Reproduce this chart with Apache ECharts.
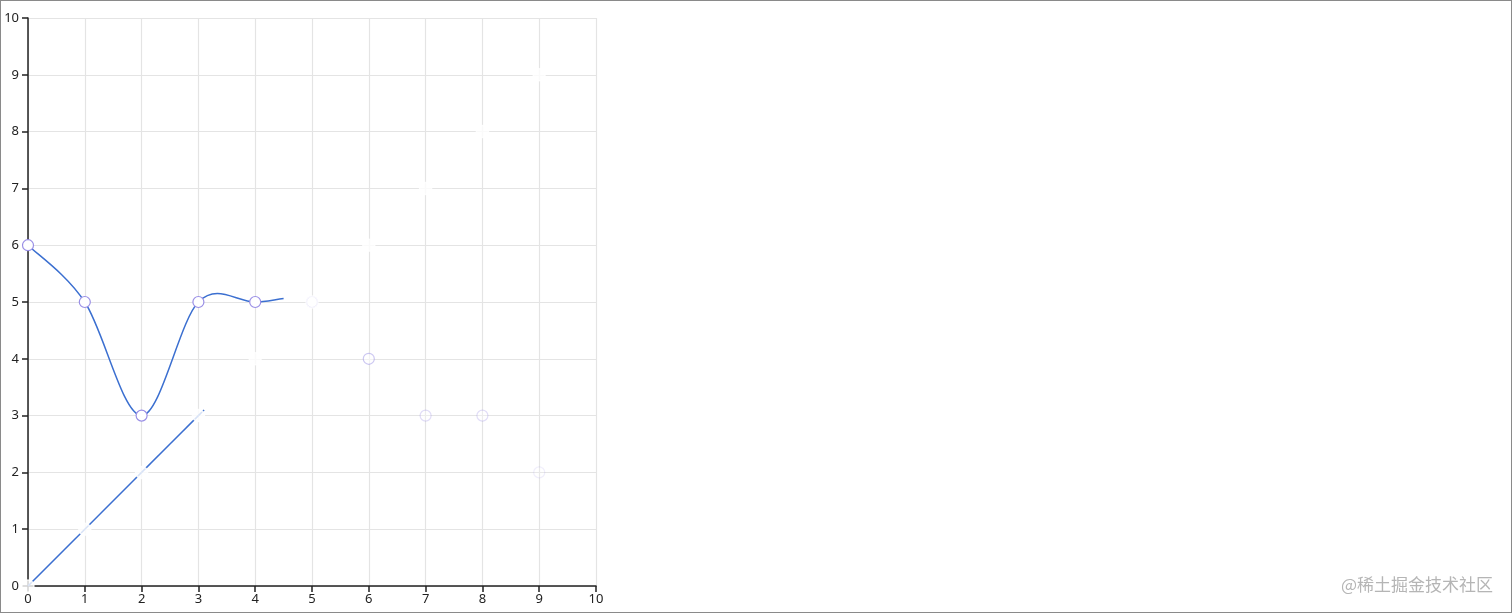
<!DOCTYPE html>
<html>
<head>
    <meta charset="UTF-8">
    <title>line chart</title>
    <script src="https://cdn.jsdelivr.net/npm/echarts@6/dist/echarts.min.js"></script>
    <style>
        html,body{margin:0;padding:0;background:#fff;}
        #main{width:1512px;height:613px;box-sizing:border-box;border:1px solid #8a8a8a;}
    </style>
</head>
<body>
<div id="main"></div>
<script>
    // 数据
    var xValues = [0, 1, 2, 3, 4, 5, 6, 7, 8, 9];
    var curveValues = [6, 5, 3, 5, 5, 5, 4, 3, 3, 2];
    var diagValues = [0, 1, 2, 3, 4, 5, 6, 7, 8, 9];
    var axisTicks = [0, 1, 2, 3, 4, 5, 6, 7, 8, 9, 10];

    // 动画进行到的位置 (线条画到哪里)
    var curveDrawnTo = 4.5;
    var diagDrawnTo = 3.1;
    // 点的透明度 (渐隐)
    var curvePointOpacity = [1, 1, 1, 1, 1, 1, 0.5, 0.3, 0.3, 0.15];

    var lineColor = '#3b6fd0';
    var pointColor = '#9a8fe6';

    var curveData = xValues.map(function (x, i) { return [x, curveValues[i]]; });
    var diagData = xValues.map(function (x, i) { return [x, diagValues[i]]; });
    var curvePoints = curveData.map(function (d, i) {
        return {value: d, itemStyle: {opacity: curvePointOpacity[i]}};
    });

    var chart = echarts.init(document.getElementById('main'), null, {renderer: 'canvas'});

    function valueAxis(margin) {
        return {
            type: 'value',
            min: axisTicks[0],
            max: axisTicks[axisTicks.length - 1],
            interval: 1,
            axisLine: {show: true, onZero: false, lineStyle: {color: '#222', width: 1.5}},
            axisTick: {show: true, length: 6, lineStyle: {color: '#222', width: 1.5}},
            axisLabel: {color: '#222', fontSize: 13, fontFamily: 'Noto Sans', margin: margin},
            splitLine: {show: true, lineStyle: {color: '#e4e4e4', width: 1.2}}
        };
    }

    // cardinal 曲线 (tension 0)，每个数据点画一段，画到 cut 为止
    function segmentRenderer(data, cut) {
        return function (params, api) {
            var i = params.dataIndex;
            if (i >= data.length - 1 || data[i][0] >= cut) return null;
            var p0 = api.coord(data[Math.max(i - 1, 0)]);
            var p1 = api.coord(data[i]);
            var p2 = api.coord(data[i + 1]);
            var p3 = api.coord(data[Math.min(i + 2, data.length - 1)]);
            var t = Math.min(1, (cut - data[i][0]) / (data[i + 1][0] - data[i][0]));
            return {
                type: 'bezierCurve',
                shape: {
                    x1: p1[0], y1: p1[1],
                    cpx1: p1[0] + (p2[0] - p0[0]) / 6, cpy1: p1[1] + (p2[1] - p0[1]) / 6,
                    cpx2: p2[0] - (p3[0] - p1[0]) / 6, cpy2: p2[1] - (p3[1] - p1[1]) / 6,
                    x2: p2[0], y2: p2[1],
                    percent: t
                },
                style: {stroke: lineColor, lineWidth: 1.5, fill: null}
            };
        };
    }

    var option = {
        animation: false,
        grid: {left: 27, top: 17, width: 568, height: 568, containLabel: false},
        xAxis: valueAxis(7),
        yAxis: valueAxis(9),
        series: [{
            type: 'custom',
            data: curveData,
            z: 2,
            renderItem: segmentRenderer(curveData, curveDrawnTo)
        }, {
            type: 'custom',
            data: diagData,
            z: 2,
            renderItem: segmentRenderer(diagData, diagDrawnTo)
        }, {
            type: 'scatter',
            data: curvePoints,
            z: 3,
            symbol: 'circle',
            symbolSize: 11,
            itemStyle: {color: '#fff', borderColor: pointColor, borderWidth: 1.2}
        }, {
            type: 'scatter',
            data: diagData,
            z: 4,
            symbol: 'circle',
            symbolSize: 12,
            itemStyle: {color: '#fff', borderColor: '#fff', borderWidth: 1.5}
        }],
        graphic: [{
            type: 'text',
            right: 18,
            top: 575,
            style: {
                text: '@稀土掘金技术社区',
                fill: '#b5b5b5',
                font: '17px "Noto Sans CJK SC"'
            }
        }]
    };

    chart.setOption(option);
</script>
</body>
</html>
